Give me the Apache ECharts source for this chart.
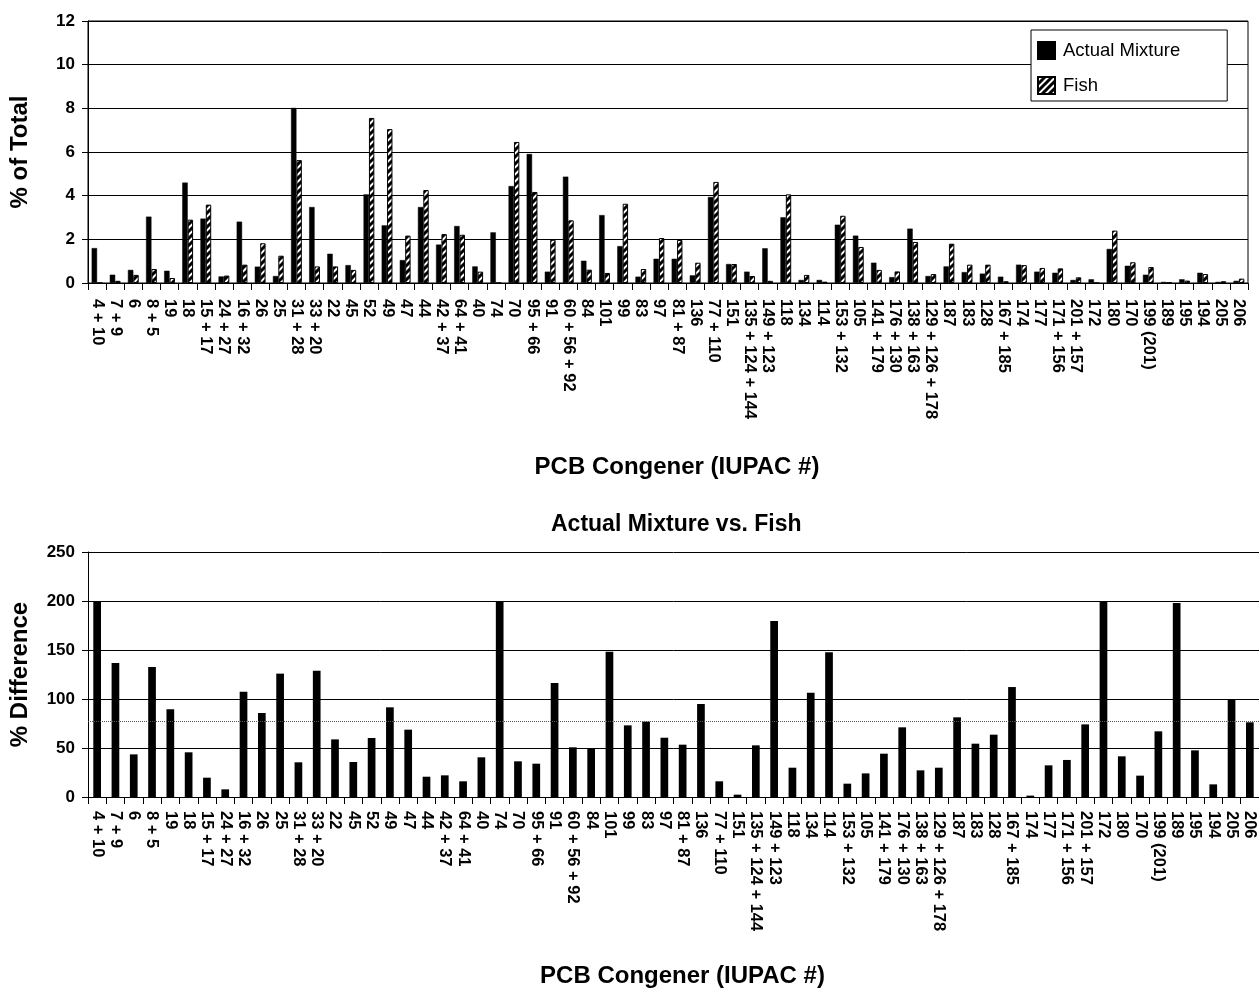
<!DOCTYPE html>
<html>
<head>
<meta charset="utf-8">
<script src="https://cdn.jsdelivr.net/npm/echarts@6/dist/echarts.min.js"></script>
<style>
html,body{margin:0;padding:0;background:#fff;}
#chart{width:1259px;height:992px;}
</style>
</head>
<body>
<div id="chart"></div>
<script>
const categories = ["4 + 10","7 + 9","6","8 + 5","19","18","15 + 17","24 + 27","16 + 32","26","25","31 + 28","33 + 20","22","45","52","49","47","44","42 + 37","64 + 41","40","74","70","95 + 66","91","60 + 56 + 92","84","101","99","83","97","81 + 87","136","77 + 110","151","135 + 124 + 144","149 + 123","118","134","114","153 + 132","105","141 + 179","176 + 130","138 + 163","129 + 126 + 178","187","183","128","167 + 185","174","177","171 + 156","201 + 157","172","180","170","199 (201)","189","195","194","205","206"];

const actualMixture = [1.6,0.38,0.6,3.04,0.56,4.6,2.95,0.3,2.81,0.75,0.32,8.02,3.48,1.34,0.82,4.06,2.64,1.05,3.48,1.76,2.61,0.76,2.32,4.44,5.91,0.52,4.87,1.02,3.11,1.69,0.29,1.11,1.11,0.35,3.94,0.87,0.52,1.59,3.01,0.14,0.14,2.67,2.17,0.93,0.27,2.49,0.32,0.76,0.5,0.43,0.29,0.84,0.52,0.47,0.14,0.17,1.56,0.79,0.38,0.05,0.17,0.47,0.05,0.1];

const fish = [0,0.1,0.37,0.64,0.23,2.9,3.59,0.34,0.84,1.82,1.25,5.63,0.76,0.76,0.6,7.56,7.05,2.17,4.26,2.24,2.21,0.52,0,6.46,4.17,1.98,2.87,0.61,0.46,3.63,0.64,2.06,1.97,0.93,4.63,0.87,0.32,0.1,4.06,0.37,0.06,3.08,1.65,0.6,0.53,1.88,0.41,1.8,0.84,0.84,0.08,0.82,0.69,0.67,0.26,0,2.4,0.95,0.73,0.02,0.11,0.41,0.08,0.2];

const pctDifference = [200,136.7,43.5,132.7,89.5,45.6,19.7,7.8,107.5,85.7,125.9,35.4,128.9,58.8,35.7,60.2,91.5,68.7,20.7,22.1,16,40.5,200,36.4,34,116.3,50.7,49.7,148.3,73.1,76.9,60.5,53.4,94.9,16,2.4,52.7,179.6,29.9,106.5,147.6,13.6,24.1,44.2,71.1,27.2,29.9,81.3,54.4,63.6,112.2,1.4,32.3,37.8,74.1,200,41.5,21.8,67,198,47.6,12.9,99.7,76.2];

const meanDifference = 77;
const topTicks = [0,2,4,6,8,10,12];
const bottomTicks = [0,50,100,150,200,250];

const FONT = '"Liberation Sans", Arial, sans-serif';

function makeHatch() {
  const s = 7;
  const c = document.createElement('canvas');
  c.width = s; c.height = s;
  const g = c.getContext('2d');
  g.fillStyle = '#fff';
  g.fillRect(0, 0, s, s);
  g.strokeStyle = '#000';
  g.lineWidth = 3;
  g.beginPath();
  g.moveTo(-2, s + 2); g.lineTo(s + 2, -2);
  g.moveTo(-2, 2); g.lineTo(2, -2);
  g.moveTo(s - 2, s + 2); g.lineTo(s + 2, s - 2);
  g.stroke();
  return c;
}
const hatch = { image: makeHatch(), repeat: 'repeat' };

const chart = echarts.init(document.getElementById('chart'), null, { renderer: 'canvas' });

const catAxisBase = {
  type: 'category',
  data: categories,
  boundaryGap: true,
  axisLine: { lineStyle: { color: '#000', width: 1 } },
  axisTick: { show: true, length: 7, lineStyle: { color: '#000' } },
  axisLabel: {
    interval: 0, rotate: -90, color: '#000', fontWeight: 'bold',
    fontSize: 16.5, fontFamily: FONT, hideOverlap: false, margin: 16
  },
  nameLocation: 'middle',
  nameTextStyle: { color: '#000', fontWeight: 'bold', fontSize: 24, fontFamily: FONT, padding: [0, 0, 0, 18] }
};

const valAxisBase = {
  type: 'value',
  axisLine: { show: true, lineStyle: { color: '#000', width: 1 } },
  axisTick: { show: true, length: 6, lineStyle: { color: '#000' } },
  splitLine: { show: true, lineStyle: { color: '#000', width: 1 } },
  axisLabel: { color: '#000', fontWeight: 'bold', fontSize: 17, fontFamily: FONT, margin: 13 },
  nameLocation: 'middle',
  nameRotate: 90,
  nameGap: 56,
  nameTextStyle: { color: '#000', fontWeight: 'bold', fontSize: 24, fontFamily: FONT }
};

const option = {
  backgroundColor: '#fff',
  animation: false,
  title: {
    text: 'Actual Mixture vs. Fish',
    left: 551, top: 513, padding: 0,
    textStyle: { color: '#000', fontWeight: 'bold', fontSize: 23, fontFamily: FONT }
  },
  legend: {
    data: ['Actual Mixture', 'Fish'],
    orient: 'vertical',
    left: 1031, top: 30,
    padding: [11, 47, 6, 6],
    itemWidth: 17, itemHeight: 17, itemGap: 16,
    icon: 'rect',
    borderColor: '#000', borderWidth: 1, backgroundColor: '#fff',
    textStyle: { color: '#000', fontSize: 18.5, fontFamily: FONT, lineHeight: 17, padding: [0, 0, 0, 3] }
  },
  grid: [
    { left: 88, top: 21, width: 1160, height: 262, show: true, borderColor: '#000', borderWidth: 1, backgroundColor: 'transparent' },
    { left: 88, top: 552, width: 1173, height: 245 }
  ],
  xAxis: [
    Object.assign({}, catAxisBase, { gridIndex: 0, name: 'PCB Congener (IUPAC #)', nameGap: 172 }),
    Object.assign({}, catAxisBase, { gridIndex: 1, name: 'PCB Congener (IUPAC #)', nameGap: 167,
      axisLabel: Object.assign({}, catAxisBase.axisLabel, { margin: 14 }) })
  ],
  yAxis: [
    Object.assign({}, valAxisBase, { gridIndex: 0, name: '% of Total',
      min: topTicks[0], max: topTicks[topTicks.length - 1], interval: topTicks[1] - topTicks[0] }),
    Object.assign({}, valAxisBase, { gridIndex: 1, name: '% Difference',
      min: bottomTicks[0], max: bottomTicks[bottomTicks.length - 1], interval: bottomTicks[1] - bottomTicks[0] })
  ],
  series: [
    {
      name: 'Actual Mixture', type: 'bar', xAxisIndex: 0, yAxisIndex: 0,
      data: actualMixture, barWidth: 5.4, barGap: '0%',
      itemStyle: { color: '#000', borderColor: '#000', borderWidth: 0.5 }
    },
    {
      name: 'Fish', type: 'bar', xAxisIndex: 0, yAxisIndex: 0,
      data: fish, barWidth: 5.4, barGap: '0%',
      itemStyle: { color: hatch, borderColor: '#000', borderWidth: 1 }
    },
    {
      name: '% Difference', type: 'bar', xAxisIndex: 1, yAxisIndex: 1,
      data: pctDifference, barWidth: 7.7,
      itemStyle: { color: '#000' },
      markLine: {
        silent: true, symbol: 'none', label: { show: false },
        lineStyle: { type: 'dotted', color: '#555', width: 1 },
        data: [{ yAxis: meanDifference }]
      }
    }
  ]
};

chart.setOption(option);
</script>
</body>
</html>
